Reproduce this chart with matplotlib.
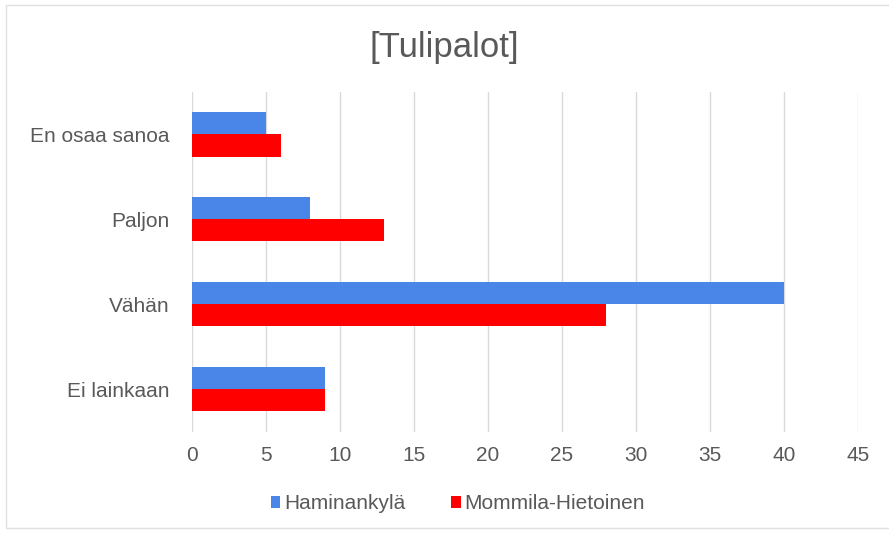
import matplotlib.pyplot as plt
import numpy as np
from matplotlib.patches import Rectangle

categories = ["Ei lainkaan", "Vähän", "Paljon", "En osaa sanoa"]
haminankyla = [9, 40, 8, 5]
mommila = [9, 28, 13, 6]
series_names = ["Haminankylä", "Mommila-Hietoinen"]
x_ticks = [0, 5, 10, 15, 20, 25, 30, 35, 40, 45]

plt.rcParams["font.family"] = ["Liberation Sans", "DejaVu Sans"]

fig = plt.figure(figsize=(8.89, 5.35), dpi=100)
# light frame round the chart, open on the right like the source
fig.patches.append(Rectangle((0.007, 0.013), 1.1, 0.978, transform=fig.transFigure,
                             fill=False, edgecolor="#e0e0e0", linewidth=1))
ax = fig.add_axes([0.216, 0.193, 0.749, 0.635])

y = np.arange(len(categories))
h = 0.26
ax.barh(y + h / 2, haminankyla, height=h, color="#4a86e8", label=series_names[0], zorder=3)
ax.barh(y - h / 2, mommila, height=h, color="#ff0000", label=series_names[1], zorder=3)

ax.set_xlim(0, 45)
ax.set_ylim(-0.5, 3.5)
ax.set_xticks(x_ticks)
ax.set_yticks(y)
ax.set_yticklabels(categories)
ax.tick_params(length=0, labelsize=15, colors="#595959")
ax.tick_params(axis="x", pad=10)
ax.tick_params(axis="y", pad=16)
ax.grid(axis="x", color="#d9d9d9", linewidth=1, zorder=0)
for s in ax.spines.values():
    s.set_visible(False)

fig.text(0.5, 0.912, "[Tulipalot]", ha="center", va="center", fontsize=25, color="#595959")
fig.legend(loc="center", bbox_to_anchor=(0.515, 0.058), ncol=2, frameon=False,
           fontsize=15, labelcolor="#595959", handlelength=0.45, handleheight=0.45,
           handletextpad=0.2, columnspacing=2.2)

plt.savefig("out.png", dpi=100)
